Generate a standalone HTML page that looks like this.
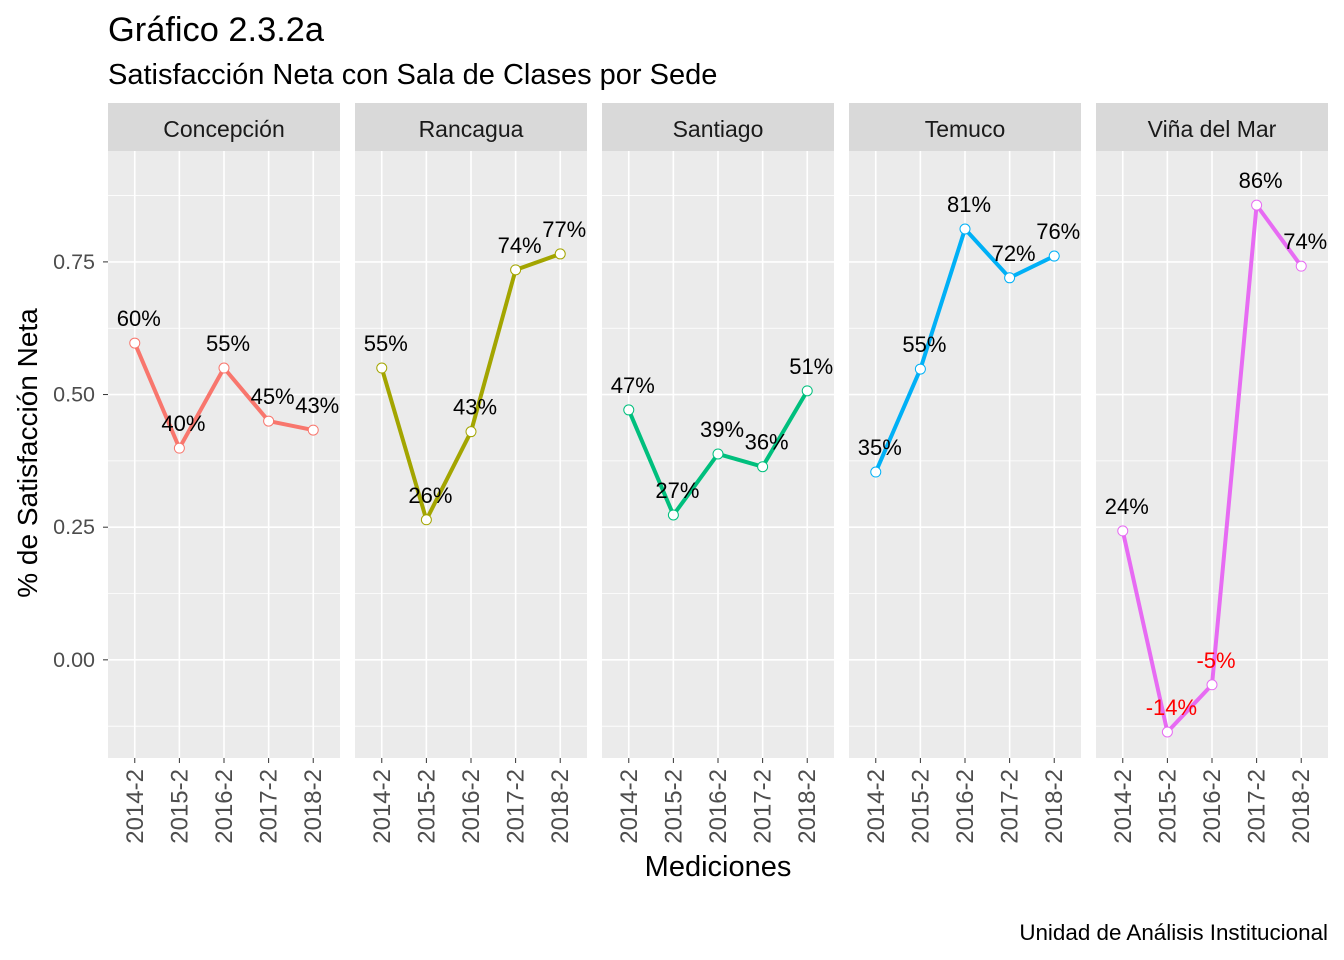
<!DOCTYPE html>
<html><head><meta charset="utf-8">
<style>
html,body{margin:0;padding:0;background:#fff;}
svg{display:block;font-family:"Liberation Sans",Arial,sans-serif;}
</style></head>
<body>
<svg id="chart" width="1344" height="960" viewBox="0 0 1344 960">
<text x="108" y="41" font-size="34.4" fill="#000">Gráfico 2.3.2a</text>
<text x="108" y="84" font-size="29" fill="#000">Satisfacción Neta con Sala de Clases por Sede</text>
<text transform="translate(37,453) rotate(-90)" text-anchor="middle" font-size="28" fill="#000">% de Satisfacción Neta</text>
<text x="718" y="876" text-anchor="middle" font-size="29" fill="#000">Mediciones</text>
<text x="1328" y="940" text-anchor="end" font-size="22.4" fill="#000">Unidad de Análisis Institucional</text>
<g id="panels"></g>
</svg>
<script>
const sedes = ["Concepción","Rancagua","Santiago","Temuco","Viña del Mar"];
const categories = ["2014-2","2015-2","2016-2","2017-2","2018-2"];
const concepcion = [0.597,0.399,0.550,0.450,0.433];
const rancagua = [0.550,0.264,0.430,0.735,0.765];
const santiago = [0.471,0.273,0.388,0.364,0.507];
const temuco = [0.354,0.548,0.812,0.720,0.761];
const vina = [0.243,-0.136,-0.047,0.857,0.742];
const yTicks = [0,0.25,0.5,0.75];
const yTickLabels = ["0.00","0.25","0.50","0.75"];
const yMinor = [-0.125,0.125,0.375,0.625,0.875];

const series = [concepcion,rancagua,santiago,temuco,vina];
const colors = ["#F8766D","#A3A500","#00BF7D","#00B0F6","#E76BF3"];
const NS="http://www.w3.org/2000/svg";
const panelsG=document.getElementById("panels");
const top0=151, bot0=758, pw=232, gap=15, left0=108;
const yMin=-0.185, yMax=0.959;
function y(v){return bot0-(v-yMin)/(yMax-yMin)*(bot0-top0);}
function x(i,p){const step=pw/(categories.length-1+1.2);return left0+p*(pw+gap)+step*(0.6+i);}
function mk(tag,attrs,parent){const e=document.createElementNS(NS,tag);for(const k in attrs)e.setAttribute(k,attrs[k]);parent.appendChild(e);return e;}

yTicks.forEach((t,k)=>{
  const tl=mk("text",{x:95,y:y(t)+7,"text-anchor":"end","font-size":"21.5",fill:"#4d4d4d"},panelsG);
  tl.textContent=yTickLabels[k];
  
  
  mk("line",{x1:103,x2:108,y1:y(t),y2:y(t),stroke:"#333","stroke-width":1},panelsG);
});

sedes.forEach((s,p)=>{
  const g=mk("g",{},panelsG);
  
  
  const px=left0+p*(pw+gap);
  mk("rect",{x:px,y:top0,width:pw,height:bot0-top0,fill:"#EBEBEB"},g);
  const strip=mk("rect",{x:px,y:103,width:pw,height:48,fill:"#D9D9D9"},g);
  
  
  const st=mk("text",{x:px+pw/2,y:137,"text-anchor":"middle","font-size":"23",fill:"#1a1a1a"},g);
  st.textContent=s;
  
  
  yMinor.forEach(t=>mk("line",{x1:px,x2:px+pw,y1:y(t),y2:y(t),stroke:"#fff","stroke-width":0.8},g));
  yTicks.forEach(t=>mk("line",{x1:px,x2:px+pw,y1:y(t),y2:y(t),stroke:"#fff","stroke-width":1.6},g));
  categories.forEach((c,i)=>{
    mk("line",{x1:x(i,p),x2:x(i,p),y1:top0,y2:bot0,stroke:"#fff","stroke-width":1.6},g);
    mk("line",{x1:x(i,p),x2:x(i,p),y1:bot0,y2:bot0+5,stroke:"#333","stroke-width":1},g);
    const tl=mk("text",{transform:`translate(${x(i,p)+8},${bot0+11}) rotate(-90)`,"text-anchor":"end","font-size":"24",fill:"#4d4d4d"},g);
    tl.textContent=c;
    
    
  });
  const vals=series[p];
  const line=mk("polyline",{points:vals.map((v,i)=>x(i,p)+","+y(v)).join(" "),fill:"none",stroke:colors[p],"stroke-width":4,"stroke-linejoin":"round"},g);
  
  
  vals.forEach((v,i)=>{
    const c=mk("circle",{cx:x(i,p),cy:y(v),r:5,fill:"#fff",stroke:colors[p],"stroke-width":1},g);
    
    
    const lb=mk("text",{x:x(i,p)+4,y:y(v)-17,"text-anchor":"middle","font-size":"22",fill:v<0?"#FF0000":"#000"},g);
    lb.textContent=Math.round(v*100)+"%";
    
    
  });
});
</script>
</body></html>
